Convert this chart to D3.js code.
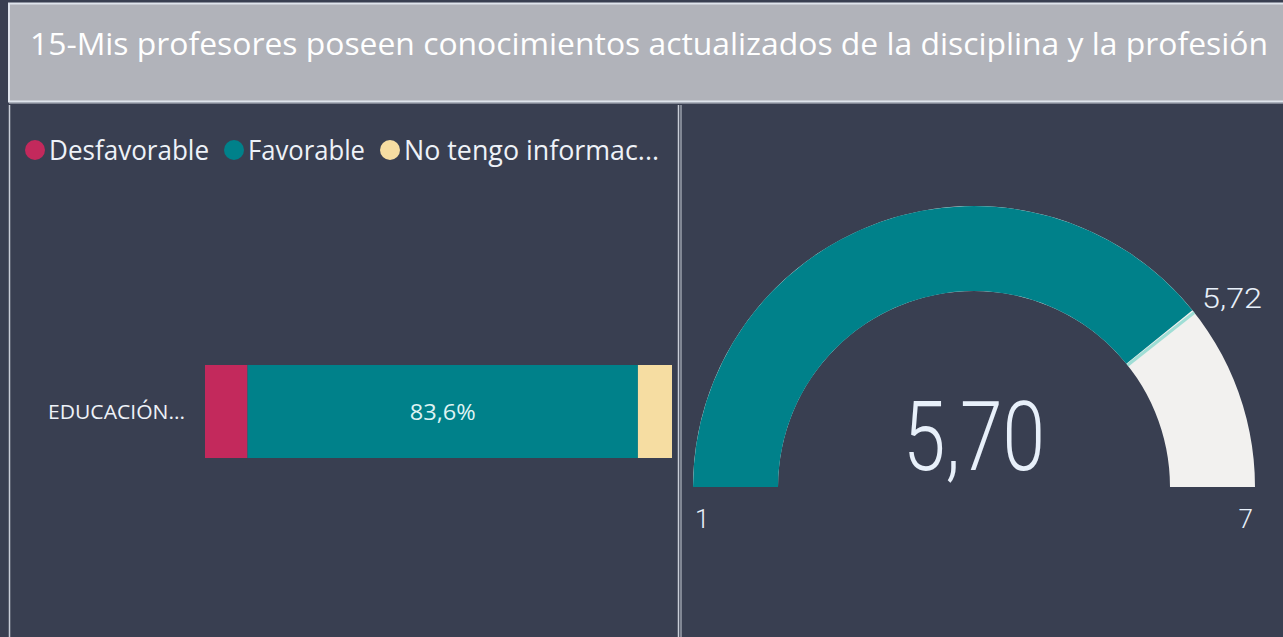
<!DOCTYPE html>
<html><head><meta charset="utf-8">
<script src="https://cdn.jsdelivr.net/npm/d3@7"></script>
<style>
html,body{margin:0;padding:0;background:#393f51;overflow:hidden;}
svg{display:block;}
</style></head>
<body>
<script>
const titleText = ["15-Mis profesores poseen conocimientos actualizados de la disciplina y la profesión"];
const categories = ["EDUCACIÓN..."];
const seriesNames = ["Desfavorable", "Favorable", "No tengo informac..."];
const seriesColors = ["#c3295c", "#00818a", "#f6dda2"];
const seriesValues = [9.1, 83.6, 7.3];
const gaugeMin = [1];
const gaugeMax = [7];
const gaugeValue = [5.70];
const gaugeTarget = [5.72];

const W = 1283, H = 637;
const svg = d3.select("body").append("svg").attr("width", W).attr("height", H);
const font = "'Open Sans', 'Noto Sans', sans-serif";
svg.append("rect").attr("width", W).attr("height", H).attr("fill", "#393f51");

// Title box
svg.append("rect").attr("x", 9).attr("y", 3.5).attr("width", W).attr("height", 98)
  .attr("fill", "#b1b3ba").attr("stroke", "#dfe4ec").attr("stroke-width", 2);
svg.append("line").attr("x1", 9).attr("x2", W).attr("y1", 103).attr("y2", 103)
  .attr("stroke", "#c9ced8").attr("stroke-width", 1);
svg.append("text").attr("x", 30).attr("y", 55).attr("fill", "#ffffff")
  .attr("font-family", font).attr("font-size", 31).text(titleText[0])
  .attr("textLength", 1238).attr("lengthAdjust", "spacingAndGlyphs");

// Panel borders
svg.append("line").attr("x1", 9.5).attr("x2", 9.5).attr("y1", 105).attr("y2", H)
  .attr("stroke", "#c9ced8").attr("stroke-width", 1.5);
svg.append("line").attr("x1", 678.5).attr("x2", 678.5).attr("y1", 105).attr("y2", H)
  .attr("stroke", "#c9ced8").attr("stroke-width", 1.5);
svg.append("line").attr("x1", 681).attr("x2", 681).attr("y1", 105).attr("y2", H)
  .attr("stroke", "#9aa0ab").attr("stroke-width", 1.5);

// Legend
const legendX = [35, 234, 390];
const legendLen = [160, 117, 255];
seriesNames.forEach((n, i) => {
  svg.append("circle").attr("cx", legendX[i]).attr("cy", 150).attr("r", 10).attr("fill", seriesColors[i]);
  svg.append("text").attr("x", legendX[i] + 14).attr("y", 160).attr("fill", "#eef2f8")
    .attr("font-family", font).attr("font-size", 27).text(n)
    .attr("textLength", legendLen[i]).attr("lengthAdjust", "spacingAndGlyphs");
});

// Stacked bar
const x = d3.scaleLinear().domain([0, 100]).range([205, 672]);
const y = d3.scaleBand().domain(categories).range([334, 489]).padding(0.25);
let cum = 0;
const stack = seriesValues.map((v, i) => { const s = {x0: cum, x1: cum + v, i}; cum += v; return s; });
categories.forEach(c => {
  svg.selectAll("rect.bar").data(stack).enter().append("rect").attr("class", "bar")
    .attr("x", d => x(d.x0)).attr("width", d => x(d.x1) - x(d.x0))
    .attr("y", y(c)).attr("height", y.bandwidth())
    .attr("fill", d => seriesColors[d.i]);
  svg.append("text").attr("x", x(stack[1].x0 + seriesValues[1] / 2)).attr("y", y(c) + y.bandwidth() / 2 + 8)
    .attr("text-anchor", "middle").attr("fill", "#dff3f3").attr("font-family", font).attr("font-size", 22)
    .attr("textLength", 66).attr("lengthAdjust", "spacingAndGlyphs")
    .text(d3.format(".1f")(seriesValues[1]).replace(".", ",") + "%");
  svg.append("text").attr("x", 48).attr("y", y(c) + y.bandwidth() / 2 + 7)
    .attr("fill", "#eef2f8").attr("font-family", font).attr("font-size", 20)
    .attr("textLength", 137).attr("lengthAdjust", "spacingAndGlyphs")
    .text(c);
});

// Gauge
const cx = 974, cy = 487, rOut = 281, rIn = 196;
const ang = d3.scaleLinear().domain([gaugeMin[0], gaugeMax[0]]).range([-Math.PI / 2, Math.PI / 2]);
const arc = d3.arc().innerRadius(rIn).outerRadius(rOut);
const g = svg.append("g").attr("transform", `translate(${cx},${cy})`);
g.append("path").attr("d", arc({startAngle: ang(gaugeMin[0]), endAngle: ang(gaugeMax[0])})).attr("fill", "#f2f1ef");
g.append("path").attr("d", arc({startAngle: ang(gaugeMin[0]), endAngle: ang(gaugeValue[0])})).attr("fill", "#00818a");
const ta = ang(gaugeTarget[0]);
g.append("line")
  .attr("x1", rIn * Math.sin(ta)).attr("y1", -rIn * Math.cos(ta))
  .attr("x2", rOut * Math.sin(ta)).attr("y2", -rOut * Math.cos(ta))
  .attr("stroke", "#9fded5").attr("stroke-width", 3);
const fmt = v => d3.format(".2f")(v).replace(".", ",");
svg.append("text").attr("x", cx).attr("y", 470).attr("text-anchor", "middle")
  .attr("fill", "#e8f0fa").attr("font-family", "Roboto, sans-serif").attr("font-weight", 300)
  .attr("font-size", 96).attr("textLength", 142).attr("lengthAdjust", "spacingAndGlyphs")
  .text(fmt(gaugeValue[0]));
svg.append("text").attr("x", 1202).attr("y", 308)
  .attr("fill", "#e8f0fa").attr("font-family", "Roboto, sans-serif").attr("font-weight", 300)
  .attr("font-size", 27).attr("textLength", 60).attr("lengthAdjust", "spacingAndGlyphs")
  .text(fmt(gaugeTarget[0]));
svg.append("text").attr("x", 695).attr("y", 528)
  .attr("fill", "#e8f0fa").attr("font-family", "Roboto, sans-serif").attr("font-weight", 300)
  .attr("font-size", 26).text(gaugeMin[0]);
svg.append("text").attr("x", 1253).attr("y", 528).attr("text-anchor", "end")
  .attr("fill", "#e8f0fa").attr("font-family", "Roboto, sans-serif").attr("font-weight", 300)
  .attr("font-size", 26).text(gaugeMax[0]);
</script>
</body></html>
